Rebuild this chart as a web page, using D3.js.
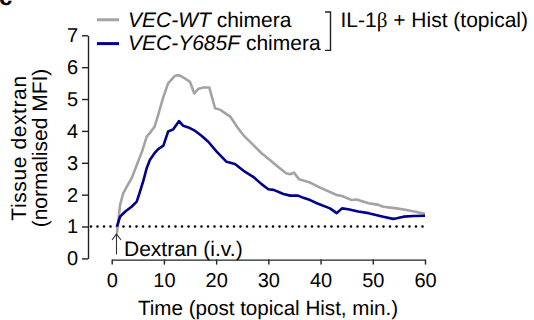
<!DOCTYPE html>
<html>
<head>
<meta charset="utf-8">
<script src="https://cdn.jsdelivr.net/npm/d3@7"></script>
<style>
  body { margin: 0; background: #fff; }
  svg { display: block; font-family: "Liberation Sans", Arial, sans-serif; text-rendering: geometricPrecision; }
</style>
</head>
<body>
<svg id="chart" width="534" height="320"></svg>
<script>
// VEC-WT chimera (grey), minutes and normalised MFI
const wtTime = [1, 1.6, 2.2, 2.9, 3.8, 4.8, 5.8, 6.7, 7.3, 8.2, 8.9, 9.9, 10.8, 12.1, 12.9, 14, 15, 15.8,
  16.6, 17.6, 18.7, 19.8, 20.8, 22.7, 24, 25.2, 27.1, 28.7, 30.7, 32.2, 33.4, 34.2, 34.9, 35.9, 38,
  39.9, 43.1, 44.1, 46, 46.9, 49.2, 51.1, 52, 54.6, 56.5, 60];
const wtValues = [0.78, 1.68, 2.04, 2.25, 2.51, 2.93, 3.35, 3.82, 3.93, 4.13, 4.5, 5.07, 5.49, 5.73, 5.75, 5.65, 5.54, 5.18,
  5.32, 5.36, 5.36, 4.71, 4.66, 4.45, 4.13, 3.87, 3.56, 3.3, 3.03, 2.83, 2.67, 2.64, 2.69, 2.48, 2.38,
  2.22, 1.99, 1.96, 1.83, 1.85, 1.73, 1.68, 1.62, 1.57, 1.52, 1.4];

// VEC-Y685F chimera (navy)
const yfTime = [1, 1.6, 2.6, 3.8, 4.8, 5.4, 6.1, 6.7, 7.3, 8.2, 8.9, 9.9, 10.8, 11.8, 12.9, 13.7, 14.7, 16,
  17.2, 18.5, 20.1, 22, 23.6, 25.5, 27.1, 28.7, 30, 31, 32.9, 34.2, 35.7, 36.7, 38, 39.3, 41.8, 43.1,
  44.1, 45.3, 47.2, 49.2, 52, 53.9, 54.6, 55.9, 57.8, 60];
const yfValues = [1.0, 1.31, 1.47, 1.62, 1.78, 2.09, 2.46, 2.83, 3.09, 3.3, 3.43, 3.54, 3.98, 4.05, 4.31, 4.16, 4.11, 4.0,
  3.85, 3.66, 3.35, 3.03, 2.96, 2.72, 2.56, 2.33, 2.17, 2.15, 2.02, 1.97, 1.97, 1.9, 1.83, 1.73, 1.57, 1.42,
  1.57, 1.54, 1.47, 1.42, 1.31, 1.24, 1.26, 1.31, 1.33, 1.34];

const xTicks = [0, 10, 20, 30, 40, 50, 60];
const yTicks = [0, 1, 2, 3, 4, 5, 6, 7];
const baseline = 1;

const grey = '#a3a3a3';
const navy = '#00008b';
const ink = '#222';

const svg = d3.select('#chart');

const x = d3.scaleLinear().domain([0, 60]).range([111.7, 425]);
const y = d3.scaleLinear().domain([0, 7]).range([258.4, 35.3]);

// panel letter, cut off at the top like the source figure
svg.append('text')
  .attr('x', -1).attr('y', 5)
  .attr('font-size', 24).attr('font-weight', 'bold')
  .text('c');

// axes
const yAxis = svg.append('g')
  .attr('transform', `translate(88,0)`)
  .call(d3.axisLeft(y).tickValues(yTicks).tickFormat(d3.format('d'))
    .tickSize(6).tickSizeOuter(0).tickPadding(4));

const xAxis = svg.append('g')
  .attr('transform', `translate(0,${y(0) + 1.2})`)
  .call(d3.axisBottom(x).tickValues(xTicks).tickFormat(d3.format('d'))
    .tickSize(5).tickSizeOuter(0).tickPadding(8));

[yAxis, xAxis].forEach(g => {
  g.selectAll('path, line').attr('stroke', ink).attr('stroke-width', 1.4);
  g.selectAll('text').attr('fill', '#000').attr('font-size', 20)
    .attr('font-family', '"Liberation Sans", Arial, sans-serif');
});

// dotted baseline at 1
svg.append('line')
  .attr('x1', 91).attr('x2', x(60))
  .attr('y1', y(baseline)).attr('y2', y(baseline))
  .attr('stroke', '#000').attr('stroke-width', 2.6)
  .attr('stroke-linecap', 'round')
  .attr('stroke-dasharray', '0,6.5');

// curves
const line = d3.line().x(d => x(d[0])).y(d => y(d[1]));

svg.append('path')
  .datum(d3.zip(wtTime, wtValues))
  .attr('d', line)
  .attr('fill', 'none').attr('stroke', grey).attr('stroke-width', 2.6)
  .attr('stroke-linejoin', 'round');

svg.append('path')
  .datum(d3.zip(yfTime, yfValues))
  .attr('d', line)
  .attr('fill', 'none').attr('stroke', navy).attr('stroke-width', 2.6)
  .attr('stroke-linejoin', 'round');

// dextran injection marker
const ax = 116.5;
svg.append('path')
  .attr('d', `M${ax},254.5 V234 M${ax - 4.5},240 L${ax},234 L${ax + 4.5},240`)
  .attr('fill', 'none').attr('stroke', '#333').attr('stroke-width', 1.1);

svg.append('text')
  .attr('x', 124).attr('y', 256)
  .attr('font-size', 21)
  .text('Dextran (i.v.)');

// axis titles
svg.append('text')
  .attr('x', Math.round(x(30))).attr('y', 315)
  .attr('text-anchor', 'middle').attr('font-size', 20.6).attr('font-weight', 'normal')
  .text('Time (post topical Hist, min.)');

const yTitle = svg.append('text')
  .attr('transform', 'translate(26,148) rotate(-90)')
  .attr('text-anchor', 'middle').attr('font-size', 21);
yTitle.append('tspan').attr('x', 0).attr('dy', 0)
  .attr('letter-spacing', 0.6).text('Tissue dextran');
yTitle.append('tspan').attr('x', 0).attr('dy', 21).text('(normalised MFI)');

// legend
const legend = [
  { name: 'VEC-WT', color: grey, y: 19.8 },
  { name: 'VEC-Y685F', color: navy, y: 43.6 }
];

legend.forEach(d => {
  svg.append('line')
    .attr('x1', 97).attr('x2', 119)
    .attr('y1', d.y).attr('y2', d.y)
    .attr('stroke', d.color).attr('stroke-width', 3);
  const t = svg.append('text')
    .attr('x', 128).attr('y', d.y + 6.8)
    .attr('font-size', 21);
  t.append('tspan').attr('font-style', 'italic').text(d.name);
  t.append('tspan').text(' chimera');
});

svg.append('path')
  .attr('d', 'M325,12 H330.5 V50.4 H325')
  .attr('fill', 'none').attr('stroke', ink).attr('stroke-width', 1.4);

const cond = svg.append('text')
  .attr('x', 340.5).attr('y', 26.6)
  .attr('font-size', 21);
cond.append('tspan').text('IL-1');
cond.append('tspan').attr('font-family', '"Liberation Serif", serif').text('β');
cond.append('tspan').text(' + Hist (topical)');
</script>
</body>
</html>
